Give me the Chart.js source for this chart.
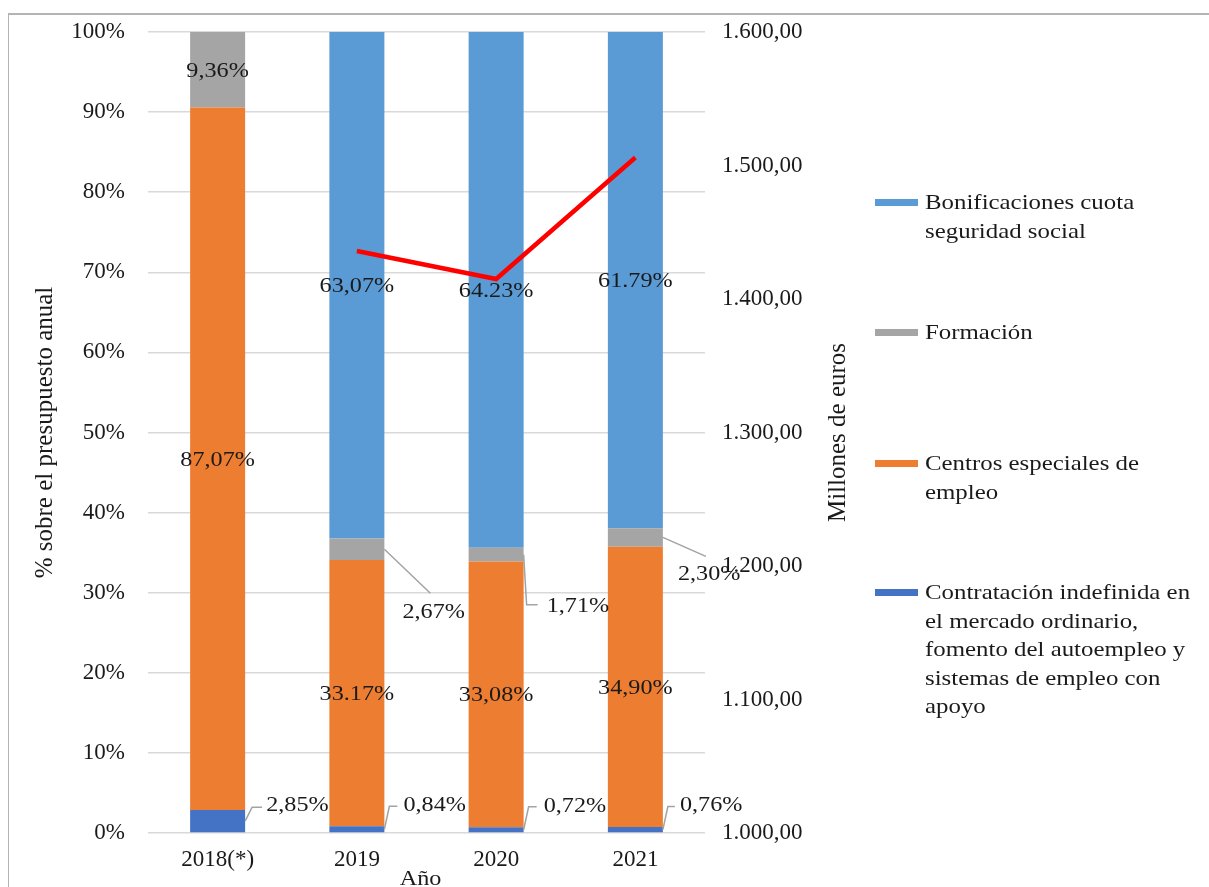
<!DOCTYPE html>
<html>
<head>
<meta charset="utf-8">
<script src="https://cdn.jsdelivr.net/npm/chart.js@4.4.1/dist/chart.umd.min.js"></script>
<style>
    html, body { margin: 0; padding: 0; background: #fff; overflow: hidden; }
    #frame {
        position: absolute; left: 8px; top: 13px; width: 1300px; height: 900px;
        border-left: 1px solid #b4b4b4; border-top: 2px solid #b4b4b4;
    }
    #chartCanvas { position: absolute; left: 0; top: 0; }
    .legend-item {
        position: absolute; left: 925px; width: 260px;
        font: 22px "Liberation Serif", "Times New Roman", serif;
        line-height: 28.5px; color: #1a1a1a; white-space: pre-line;
        transform: scaleX(1.13); transform-origin: 0 0;
    }
    .legend-swatch { position: absolute; left: 875px; width: 43px; height: 7px; }
</style>
</head>
<body>
<div id="frame"></div>
<canvas id="chartCanvas" width="1209" height="900"></canvas>
<div id="legend"></div>

<script>
// --- data ---
const years = ['2018(*)', '2019', '2020', '2021'];

const contratacion   = [2.85, 0.84, 0.72, 0.76];
const centros        = [87.07, 33.17, 33.08, 34.90];
const formacion      = [9.36, 2.67, 1.71, 2.30];
const bonificaciones = [0, 63.07, 64.23, 61.79];

// labels exactly as printed in the chart
const contratacionText   = ['2,85%', '0,84%', '0,72%', '0,76%'];
const centrosText        = ['87,07%', '33.17%', '33,08%', '34,90%'];
const formacionText      = ['9,36%', '2,67%', '1,71%', '2,30%'];
const bonificacionesText = ['', '63,07%', '64.23%', '61.79%'];

// total budget, millones de euros (right axis)
const millones = [null, 1436, 1415, 1506];

const seriesNames = [
    'Contratación indefinida en\nel mercado ordinario,\nfomento del autoempleo y\nsistemas de empleo con\napoyo',
    'Centros especiales de\nempleo',
    'Formación',
    'Bonificaciones cuota\nseguridad social'
];
const seriesColors = ['#4472C4', '#ED7D31', '#A5A5A5', '#5B9BD5'];

// 100% stacked: each year scaled to its own total
const totals = years.map((_, i) => contratacion[i] + centros[i] + formacion[i] + bonificaciones[i]);
const pct = arr => arr.map((v, i) => v / totals[i] * 100);

// where the outside labels go (offsets from the right edge / middle of the segment)
const outside = {
    0: [
        { path: [[7, -14], [17, -14]], text: [21, -16] },
        { path: [[5, -23], [13, -23]], text: [19, -24] },
        { path: [[5, -23], [13, -23]], text: [20, -24] },
        { path: [[5, -23], [12, -23]], text: [17, -24] }
    ],
    2: [
        null,
        { path: [[46, 44]], text: [18, 63] },
        { path: [[3, 50], [14, 50]], text: [23, 52] },
        { path: [[43, 19]], text: [15, 37] }
    ]
};

const labelTexts = [contratacionText, centrosText, formacionText, bonificacionesText];
const rawValues = [contratacion, centros, formacion, bonificaciones];

const serif = '"Liberation Serif", "Times New Roman", serif';
const stretch = 1.1; // the printed labels are a bit wide

function wideText(ctx, text, x, y, align) {
    ctx.save();
    ctx.translate(x, y);
    ctx.scale(stretch, 1);
    ctx.textAlign = align;
    ctx.textBaseline = 'middle';
    ctx.fillText(text, 0, 0);
    ctx.restore();
}

const labelPlugin = {
    id: 'segLabels',
    afterDatasetsDraw(chart) {
        const ctx = chart.ctx;
        ctx.save();
        ctx.font = '22px ' + serif;
        ctx.fillStyle = '#1a1a1a';
        for (let d = 0; d < 4; d++) {
            const meta = chart.getDatasetMeta(d);
            meta.data.forEach((bar, i) => {
                if (!rawValues[d][i]) return;
                const p = bar.getProps(['x', 'y', 'base', 'width'], true);
                const cy = (p.y + p.base) / 2;
                const place = outside[d] ? outside[d][i] : null;
                if (!place) {
                    wideText(ctx, labelTexts[d][i], p.x, cy + 1, 'center');
                    return;
                }
                const ax = p.x + p.width / 2;
                ctx.strokeStyle = '#a3a3a3';
                ctx.lineWidth = 1.5;
                ctx.beginPath();
                ctx.moveTo(ax, cy);
                place.path.forEach(pt => ctx.lineTo(ax + pt[0], cy + pt[1]));
                ctx.stroke();
                wideText(ctx, labelTexts[d][i], ax + place.text[0], cy + place.text[1], 'left');
            });
        }
        ctx.restore();
    },
    afterDraw(chart) {
        const ctx = chart.ctx;
        const area = chart.chartArea;
        const midY = (area.top + area.bottom) / 2;
        ctx.save();
        ctx.fillStyle = '#1a1a1a';
        ctx.textAlign = 'center';
        ctx.textBaseline = 'middle';
        ctx.font = '25px ' + serif;
        // left axis title
        ctx.save();
        ctx.translate(45, midY);
        ctx.rotate(-Math.PI / 2);
        ctx.fillText('% sobre el presupuesto anual', 0, 0);
        ctx.restore();
        // right axis title
        ctx.save();
        ctx.translate(838, midY);
        ctx.rotate(-Math.PI / 2);
        ctx.fillText('Millones de euros', 0, 0);
        ctx.restore();
        // x axis title
        ctx.font = '22px ' + serif;
        wideText(ctx, 'Año', (area.left + area.right) / 2 - 6, 879, 'center');
        ctx.restore();
    }
};

function euros(v) {
    const parts = v.toFixed(2).split('.');
    return parts[0].replace(/\B(?=(\d{3})+(?!\d))/g, '.') + ',' + parts[1];
}

const barDatasets = [contratacion, centros, formacion, bonificaciones].map((arr, i) => ({
    type: 'bar',
    label: seriesNames[i],
    data: pct(arr),
    backgroundColor: seriesColors[i],
    borderWidth: 0,
    barPercentage: 0.395,
    categoryPercentage: 1,
    yAxisID: 'y',
    order: 1
}));

const tickFont = { family: serif, size: 23 };

// fixed side widths, no extra label padding above the plot
function fixWidth(w) {
    return s => {
        s.width = w;
        s.paddingTop = 0;
        s.paddingBottom = 0;
    };
}

const ctx = document.getElementById('chartCanvas').getContext('2d');
new Chart(ctx, {
    data: {
        labels: years,
        datasets: [
            ...barDatasets,
            {
                type: 'line',
                label: 'Millones de euros',
                data: millones,
                borderColor: '#FF0000',
                borderWidth: 4.5,
                pointRadius: 0,
                tension: 0,
                yAxisID: 'y1',
                order: 0
            }
        ]
    },
    options: {
        responsive: false,
        animation: false,
        layout: { padding: { top: 32, left: 0, right: 0, bottom: 0 } },
        plugins: {
            legend: { display: false },
            tooltip: { enabled: false }
        },
        scales: {
            x: {
                stacked: true,
                grid: { display: false, drawTicks: false },
                border: { display: false },
                ticks: { font: tickFont, color: '#1a1a1a', padding: 13 },
                afterFit: s => { s.height = 67; }
            },
            y: {
                stacked: true,
                position: 'left',
                min: 0,
                max: 100,
                grid: { color: '#d9d9d9', lineWidth: 1.5, drawTicks: false },
                border: { display: false },
                ticks: {
                    stepSize: 10,
                    padding: 23,
                    font: tickFont,
                    color: '#1a1a1a',
                    callback: v => v + '%'
                },
                afterFit: fixWidth(148)
            },
            y1: {
                position: 'right',
                min: 1000,
                max: 1600,
                grid: { display: false, drawTicks: false },
                border: { display: false },
                ticks: {
                    stepSize: 100,
                    padding: 17,
                    font: tickFont,
                    color: '#1a1a1a',
                    callback: v => euros(v)
                },
                afterFit: fixWidth(504)
            }
        }
    },
    plugins: [labelPlugin]
});

// legend on the right, top series first
const legendTops = [578, 449, 318, 188];
const legend = document.getElementById('legend');
seriesNames.forEach((name, i) => {
    const top = legendTops[i];
    legend.insertAdjacentHTML('beforeend',
        `<div class="legend-swatch" style="top:${top + 11}px;background:${seriesColors[i]}"></div>` +
        `<div class="legend-item" style="top:${top}px">${name}</div>`);
});
</script>
</body>
</html>
